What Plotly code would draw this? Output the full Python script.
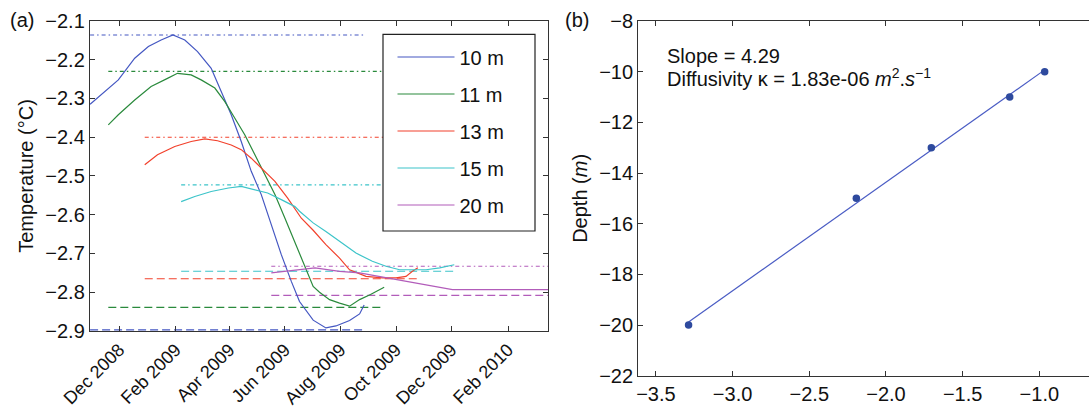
import numpy as np
import plotly.graph_objects as go

FONT = "Liberation Sans, Arial, Helvetica, sans-serif"

# ---------------- Panel (a): temperature time series ----------------
depth_labels = ["10 m", "11 m", "13 m", "15 m", "20 m"]
line_colors = ["#4457c2", "#2a8a3c", "#f2412c", "#3cc4c9", "#b25cba"]

dates_10 = ["2008-10-30", "2008-11-15", "2008-11-30", "2008-12-18", "2009-01-02", "2009-01-16",
            "2009-01-29", "2009-02-11", "2009-02-25", "2009-03-12", "2009-03-23", "2009-04-03",
            "2009-04-14", "2009-04-25", "2009-05-06", "2009-05-17", "2009-05-28", "2009-06-08",
            "2009-06-17", "2009-07-02", "2009-07-16", "2009-07-27", "2009-08-11", "2009-08-22",
            "2009-08-27"]
temp_10 = [-2.315, -2.282, -2.252, -2.196, -2.166, -2.149,
           -2.136, -2.149, -2.179, -2.222, -2.282, -2.342,
           -2.411, -2.488, -2.548, -2.626, -2.703, -2.772,
           -2.824, -2.872, -2.892, -2.887, -2.873, -2.856,
           -2.833]

dates_11 = ["2008-11-19", "2008-11-30", "2008-12-18", "2009-01-05", "2009-01-23", "2009-02-03",
            "2009-02-18", "2009-03-01", "2009-03-16", "2009-03-27", "2009-04-07", "2009-04-18",
            "2009-04-29", "2009-05-10", "2009-05-21", "2009-06-01", "2009-06-12", "2009-06-17",
            "2009-06-23", "2009-07-02", "2009-07-09", "2009-07-20", "2009-07-31", "2009-08-11",
            "2009-08-22", "2009-09-03", "2009-09-18"]
temp_11 = [-2.368, -2.342, -2.304, -2.269, -2.248, -2.235,
           -2.239, -2.252, -2.273, -2.308, -2.351, -2.394,
           -2.445, -2.497, -2.548, -2.609, -2.672, -2.700,
           -2.735, -2.785, -2.800, -2.819, -2.828, -2.836,
           -2.819, -2.806, -2.787]

dates_13 = ["2008-12-29", "2009-01-12", "2009-01-31", "2009-02-18", "2009-03-05", "2009-03-19",
            "2009-04-03", "2009-04-14", "2009-04-25", "2009-05-06", "2009-05-21", "2009-06-04",
            "2009-06-19", "2009-07-02", "2009-07-16", "2009-07-31", "2009-08-11", "2009-08-29",
            "2009-09-16", "2009-10-01", "2009-10-12", "2009-10-19", "2009-10-25"]
temp_13 = [-2.471, -2.445, -2.424, -2.411, -2.404, -2.409,
           -2.420, -2.432, -2.454, -2.480, -2.514, -2.557,
           -2.609, -2.640, -2.677, -2.712, -2.742, -2.759,
           -2.763, -2.763, -2.759, -2.746, -2.737]

dates_15 = ["2009-02-07", "2009-02-22", "2009-03-12", "2009-03-31", "2009-04-14", "2009-04-29",
            "2009-05-13", "2009-05-28", "2009-06-12", "2009-06-17", "2009-07-02", "2009-07-16",
            "2009-07-31", "2009-08-18", "2009-09-05", "2009-09-20", "2009-10-05", "2009-10-19",
            "2009-11-03", "2009-11-18", "2009-12-04"]
temp_15 = [-2.566, -2.553, -2.540, -2.531, -2.527, -2.536,
           -2.544, -2.561, -2.579, -2.591, -2.621, -2.643,
           -2.669, -2.699, -2.720, -2.733, -2.742, -2.742,
           -2.742, -2.737, -2.729]

dates_20 = ["2009-05-17", "2009-06-01", "2009-06-15", "2009-07-04", "2009-07-31", "2009-08-22",
            "2009-09-12", "2009-10-01", "2009-10-19", "2009-11-10", "2009-12-02", "2009-12-24",
            "2010-01-15", "2010-02-06", "2010-02-28", "2010-03-18"]
temp_20 = [-2.750, -2.746, -2.742, -2.737, -2.746, -2.750,
           -2.759, -2.767, -2.776, -2.785, -2.793, -2.793,
           -2.793, -2.793, -2.793, -2.793]

# reference levels (maximum: dash-dot, minimum: dashed)
t_max = [-2.136, -2.230, -2.400, -2.523, -2.733]
t_min = [-2.897, -2.839, -2.765, -2.746, -2.808]

date_tickvals = ["2008-12-01", "2009-02-01", "2009-04-01", "2009-06-01",
                 "2009-08-01", "2009-10-01", "2009-12-01", "2010-02-01"]
date_ticktext = ["Dec 2008", "Feb 2009", "Apr 2009", "Jun 2009",
                 "Aug 2009", "Oct 2009", "Dec 2009", "Feb 2010"]

# ---------------- Panel (b): depth vs log-amplitude ----------------
log_amp = [-0.965, -1.193, -1.704, -2.193, -3.287]
depth_m = [-10, -11, -13, -15, -20]
slope_text = "Slope = 4.29"
diff_text = "Diffusivity κ = 1.83e-06 <i>m</i><sup>2</sup>.<i>s</i><sup>−1</sup>"

series_dates = [dates_10, dates_11, dates_13, dates_15, dates_20]
series_temps = [temp_10, temp_11, temp_13, temp_15, temp_20]

FS = 20
W, H = 1089, 414

fig = go.Figure()

# reference level lines (drawn first, beneath the data)
for i in range(5):
    span = [series_dates[i][0], series_dates[i][-1]]
    fig.add_trace(go.Scatter(x=span, y=[t_max[i]] * 2, mode="lines", xaxis="x", yaxis="y",
                             line=dict(color=line_colors[i], width=1.1, dash="4px,3px,1.5px,3px"),
                             showlegend=False, hoverinfo="skip"))
    fig.add_trace(go.Scatter(x=span, y=[t_min[i]] * 2, mode="lines", xaxis="x", yaxis="y",
                             line=dict(color=line_colors[i], width=1.1, dash="8px,4px"),
                             showlegend=False, hoverinfo="skip"))

for i in range(5):
    fig.add_trace(go.Scatter(x=series_dates[i], y=series_temps[i], mode="lines",
                             name=depth_labels[i], xaxis="x", yaxis="y",
                             legendgroup=depth_labels[i],
                             line=dict(color=line_colors[i], width=1.2)))

# fit line for panel b
slope, intercept = np.polyfit(log_amp, depth_m, 1)
fit_x = np.array([min(log_amp), max(log_amp)])
fit_y = slope * fit_x + intercept
fig.add_trace(go.Scatter(x=fit_x, y=fit_y, mode="lines", xaxis="x2", yaxis="y2",
                         line=dict(color="#4a5cc4", width=1.2), showlegend=False))
fig.add_trace(go.Scatter(x=log_amp, y=depth_m, mode="markers", xaxis="x2", yaxis="y2",
                         marker=dict(color="#2e4a9e", size=7.5), showlegend=False))

axis_common = dict(showline=True, linecolor="#333333", linewidth=1.3, ticks="inside",
                   ticklen=5, tickcolor="#333333", tickwidth=1, showgrid=False, zeroline=False,
                   automargin=False)
tickfont_std = dict(family=FONT, size=FS, color="#111111")

fig.update_layout(
    template="none",
    width=W, height=H,
    margin=dict(l=0, r=0, t=0, b=0, autoexpand=False),
    paper_bgcolor="white", plot_bgcolor="white",
    font=dict(family=FONT, size=FS, color="#111111"),
    xaxis=dict(domain=[0.0826, 0.5032], type="date",
               range=["2008-10-29 20:00", "2010-03-16 22:00"],
               tickmode="array", tickvals=date_tickvals, ticktext=date_ticktext,
               tickangle=-45, mirror="ticks", anchor="y",
               tickfont=dict(family=FONT, size=18, color="#111111"), **axis_common),
    yaxis=dict(domain=[0.2005, 0.9493], range=[-2.9, -2.1], dtick=0.1, tick0=-2.1,
               tickformat=".1f", mirror="ticks", anchor="x", tickfont=tickfont_std,
               title=dict(text="Temperature (°C)", font=dict(size=FS), standoff=6),
               **axis_common),
    xaxis2=dict(domain=[0.5861, 1.0], range=[-3.615, -0.676], dtick=0.5, tick0=-3.5,
                tickformat=".1f", mirror="ticks", anchor="y2", tickfont=tickfont_std,
                **axis_common),
    yaxis2=dict(domain=[0.0925, 0.9493], range=[-22, -8], dtick=2, tick0=-22,
                anchor="x2", mirror=False, tickfont=tickfont_std,
                title=dict(text="Depth (<i>m</i>)", font=dict(size=FS), standoff=6),
                **axis_common),
    legend=dict(x=392.5 / W, y=1 - 37.5 / H, xanchor="left", yanchor="top",
                borderwidth=0, bgcolor="rgba(0,0,0,0)",
                font=dict(family=FONT, size=FS), tracegroupgap=8, itemwidth=57),
    showlegend=True,
    shapes=[
        # legend frame (opaque, hides the reference lines behind it)
        dict(type="rect", xref="paper", yref="paper",
             x0=383 / W, x1=535 / W, y0=1 - 231 / H, y1=1 - 34.3 / H,
             fillcolor="white", line=dict(color="#222222", width=1.2), layer="above"),
    ],
    annotations=[
        dict(text="(a)", x=8 / W, y=1 - 20 / H, xref="paper", yref="paper",
             xanchor="left", yanchor="middle", showarrow=False, font=dict(size=FS)),
        dict(text="(b)", x=563 / W, y=1 - 20 / H, xref="paper", yref="paper",
             xanchor="left", yanchor="middle", showarrow=False, font=dict(size=FS)),
        dict(text=slope_text, x=665 / W, y=1 - 55.5 / H, xref="paper", yref="paper",
             xanchor="left", yanchor="middle", showarrow=False, font=dict(size=FS)),
        dict(text=diff_text, x=665 / W, y=1 - 77.5 / H, xref="paper", yref="paper",
             xanchor="left", yanchor="middle", showarrow=False, font=dict(size=FS)),
    ],
)

fig.write_html("out.html")
